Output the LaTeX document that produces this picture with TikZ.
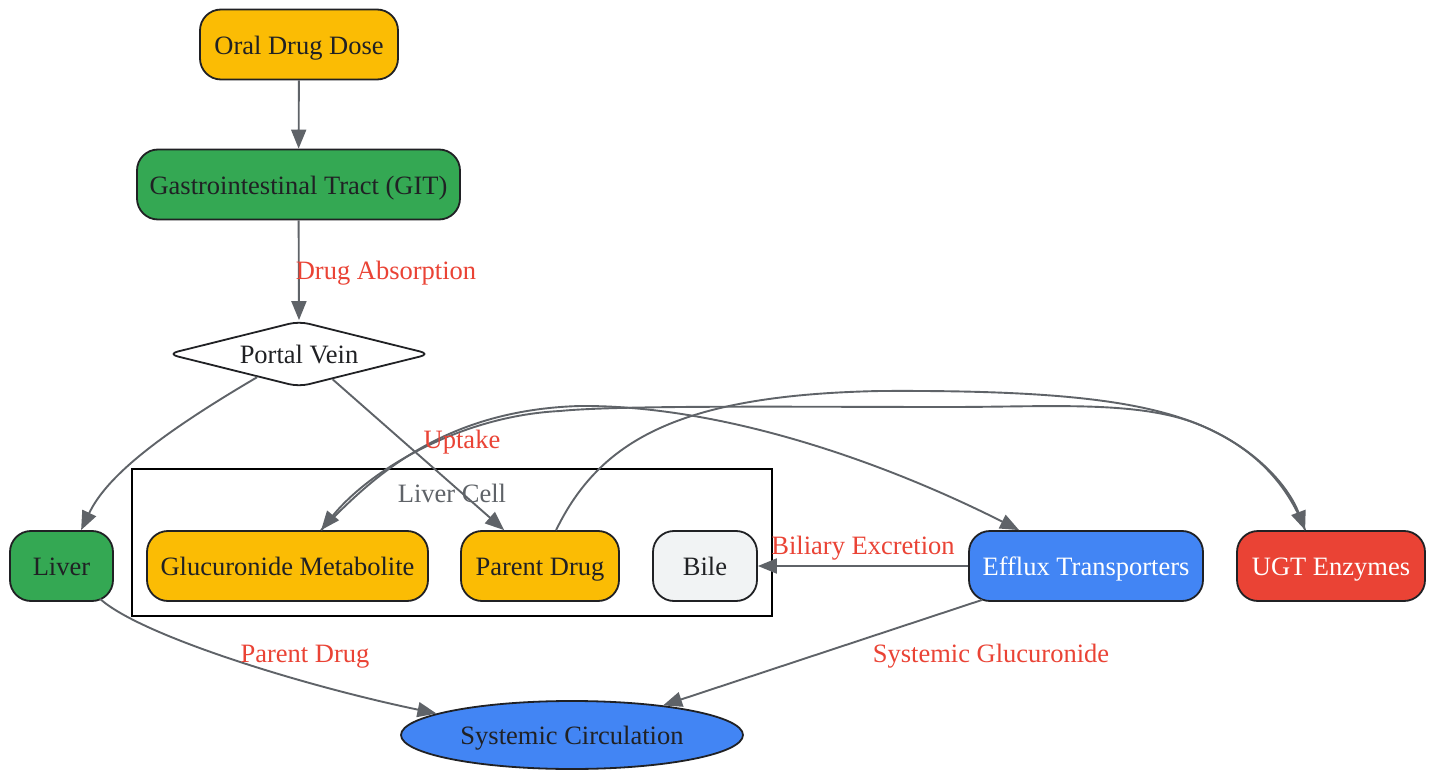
\documentclass[tikz,border=0pt]{standalone}
\usepackage{fontspec}
\setmainfont{Liberation Serif}
\usetikzlibrary{arrows.meta,shapes.geometric}
\definecolor{gyellow}{HTML}{FBBC04}
\definecolor{ggreen}{HTML}{34A853}
\definecolor{gblue}{HTML}{4285F4}
\definecolor{gred}{HTML}{EA4335}
\definecolor{ggray}{HTML}{F1F3F4}
\definecolor{ink}{HTML}{202124}
\definecolor{edgec}{HTML}{5F6368}
\begin{document}
\begin{tikzpicture}[x=1pt,y=-1pt,
  txt/.style={font=\fontsize{26.5}{30}\selectfont, text height=22pt, text depth=2.4pt},
  box/.style={txt, draw=ink, line width=1.8pt, rounded corners=21pt, minimum height=70pt, inner sep=0pt, text=ink},
  flow/.style={draw=edgec, line width=1.9pt, -{Triangle[length=19pt,width=15pt]}},
  lbl/.style={txt, text=gred, inner sep=0pt},
]
\useasboundingbox (0,0) rectangle (1433,770);
\fill[white] (0,0) rectangle (1433,770);

% cluster
\node[draw=black, line width=1.8pt, minimum width=640pt, minimum height=147pt, inner sep=0pt] (cell) at (452,542.5) {};
\node[txt, text=edgec, inner sep=0pt] (celllbl) at (452,493) {Liver Cell};

% nodes
\node[box, fill=gyellow, minimum width=198pt] (oral) at (299,44.5) {Oral Drug Dose};
\node[box, fill=ggreen, minimum width=323pt] (git) at (298.5,184.5) {Gastrointestinal Tract (GIT)};
\node[diamond, txt, draw=ink, line width=1.8pt, fill=white, aspect=4, minimum width=263pt, minimum height=66pt, inner sep=0pt, rounded corners=10pt, text=ink] (pv) at (299,354) {Portal Vein};
\node[box, fill=ggreen, minimum width=103pt] (liver) at (61.5,566) {Liver};
\node[box, fill=gyellow, minimum width=281pt] (gm) at (287.5,566) {Glucuronide Metabolite};
\node[box, fill=gyellow, minimum width=158pt] (pd) at (540,566) {Parent Drug};
\node[box, fill=ggray, minimum width=104pt] (bile) at (705,566) {Bile};
\node[box, fill=gblue, minimum width=234pt, text=white] (ef) at (1086,566) {Efflux Transporters};
\node[box, fill=gred, minimum width=188pt, text=white] (ugt) at (1331,566) {UGT Enzymes};
\node[ellipse, txt, draw=ink, line width=1.8pt, fill=gblue, text=ink, minimum width=342pt, minimum height=68pt, inner sep=0pt] (sc) at (572,735) {Systemic Circulation};

% edges
\draw[flow] (oral) -- (git);
\draw[flow] (git) -- (pv.north);
\draw[flow] (pv.209) .. controls (150,440) and (105,480) .. ([xshift=72pt]liver.north west);
\draw[flow] (pv.323) -- ([xshift=44pt]pd.north west);
\draw[flow] ([xshift=96pt]pd.north west) .. controls (600,440) and (680,395) .. (880,391) .. controls (1050,390) and (1140,400) .. (1200,425) .. controls (1260,450) and (1290,490) .. ([xshift=69pt]ugt.north west);
\draw[flow] ([xshift=69pt]ugt.north west) .. controls (1290,490) and (1260,450) .. (1200,425) .. controls (1140,400) and (1050,407) .. (950,407) .. controls (800,407) and (620,405) .. (560,411) .. controls (460,416) and (370,470) .. ([xshift=175pt]gm.north west);
\draw[flow] ([xshift=175pt]gm.north west) .. controls (370,480) and (440,410) .. (580,406) .. controls (720,405) and (880,460) .. ([xshift=51pt]ef.north west);
\draw[flow] (ef.west) -- (bile.east);
\draw[flow] ([xshift=14pt,yshift=2pt]ef.south west) -- (sc.18);
\draw[flow] ([xshift=91pt,yshift=3pt]liver.south west) .. controls (140,635) and (300,685) .. (sc.171);

% labels
\node[lbl] (l1) at (386,270) {Drug Absorption};
\node[lbl] (l2) at (462,439) {Uptake};
\node[lbl] (l3) at (863,545) {Biliary Excretion};
\node[lbl] (l4) at (991,653) {Systemic Glucuronide};
\node[lbl] (l5) at (305,653) {Parent Drug};
\end{tikzpicture}
\end{document}
